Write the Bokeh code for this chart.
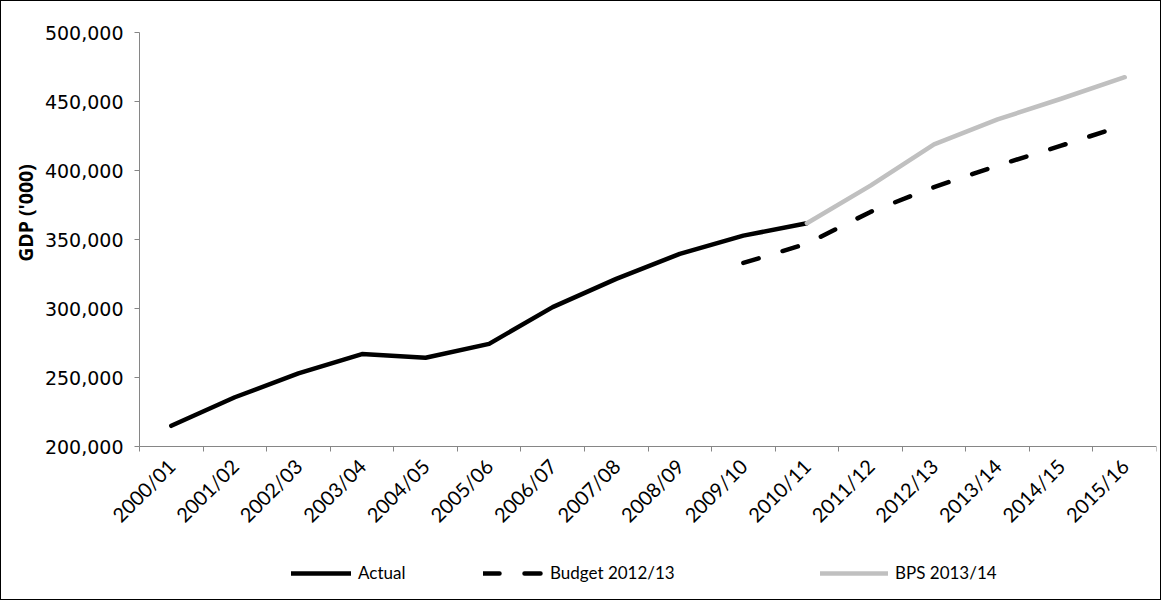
import math
from bokeh.plotting import figure
from bokeh.models import (Range1d, FixedTicker, NumeralTickFormatter, Legend,
                          LegendItem, ColumnDataSource, Label)
from bokeh.embed import file_html
from bokeh.resources import INLINE

categories = ["2000/01", "2001/02", "2002/03", "2003/04", "2004/05", "2005/06",
              "2006/07", "2007/08", "2008/09", "2009/10", "2010/11", "2011/12",
              "2012/13", "2013/14", "2014/15", "2015/16"]
actual_years = categories[:11]
actual = [215000, 235700, 253000, 267000, 264300, 274400, 301000, 321500,
          339600, 352800, 361800]
budget_years = categories[9:]
budget = [333000, 347000, 370000, 388000, 403600, 418000, 433000]
bps_years = categories[10:]
bps = [361800, 389000, 419000, 437000, 452000, 467600]
y_ticks = [200000, 250000, 300000, 350000, 400000, 450000, 500000]
y_min, y_max = 200000, 500000

# layout (pixels, relative to the page)
W, H = 1161, 600          # content size inside the 1px border
RIGHT = 6
PLOT_L, PLOT_R = 139, 1156  # where the category axis starts / ends
PLOT_T, PLOT_B = 32, 446    # where 500,000 / 200,000 lie
FRAME_L, FRAME_T, FRAME_B = 1, 1, 601   # frame edges on the page
n = len(categories)
px_x = (PLOT_R - PLOT_L) / n
px_y = (PLOT_B - PLOT_T) / (y_max - y_min)
x_start = -(PLOT_L - FRAME_L) / px_x
y_start = y_min - (FRAME_B - PLOT_B) / px_y
y_end = y_max + (PLOT_T - FRAME_T) / px_y

pos = {c: i + 0.5 for i, c in enumerate(categories)}

src_a = ColumnDataSource(dict(x=[pos[c] for c in actual_years], y=actual))
src_b = ColumnDataSource(dict(x=[pos[c] for c in budget_years], y=budget))
src_p = ColumnDataSource(dict(x=[pos[c] for c in bps_years], y=bps))

p = figure(width=W, height=H, output_backend="svg", toolbar_location=None,
           x_range=Range1d(x_start, n), y_range=Range1d(y_start, y_end),
           min_border_left=0, min_border_right=RIGHT, min_border_top=0,
           min_border_bottom=0)
p.styles = {"border": "1px solid black"}
p.outline_line_color = None
p.xgrid.visible = False
p.ygrid.visible = False
p.background_fill_color = "white"
p.border_fill_color = "white"

axis_col = "#868686"

# x axis, drawn at the 200,000 level
xa = p.xaxis[0]
xa.fixed_location = y_min
xa.bounds = (0, n)
xa.ticker = FixedTicker(ticks=[pos[c] for c in categories],
                        minor_ticks=list(range(n + 1)))
xa.major_label_overrides = {pos[c]: c for c in categories}
xa.major_label_orientation = math.pi / 4
xa.major_tick_line_color = None
xa.minor_tick_line_color = axis_col
xa.minor_tick_out = 5
xa.minor_tick_in = 0
xa.axis_line_color = axis_col
xa.major_label_text_font = "Lato"
xa.major_label_text_font_size = "20px"
xa.major_label_text_color = "black"
xa.major_label_standoff = 10

# y axis, drawn at the start of the categories
ya = p.yaxis[0]
ya.fixed_location = 0
ya.bounds = (y_min, y_max)
ya.ticker = FixedTicker(ticks=y_ticks)
ya.formatter = NumeralTickFormatter(format="0,0")
ya.axis_line_color = axis_col
ya.major_tick_line_color = axis_col
ya.major_tick_out = 5
ya.major_tick_in = 0
ya.minor_tick_line_color = None
ya.major_label_text_font = "DejaVu Sans"
ya.major_label_text_font_size = "19px"
ya.major_label_text_color = "black"
ya.major_label_standoff = 11

# y axis title
title_px, title_py = 25, 212.5
p.add_layout(Label(x=(title_px - PLOT_L) / px_x,
                   y=y_min + (PLOT_B - title_py) / px_y,
                   text="GDP ('000)", angle=math.pi / 2,
                   text_align="center", text_baseline="middle",
                   text_font="Open Sans", text_font_size="19.5px",
                   text_font_style="bold", text_color="black"))

r_a = p.line("x", "y", source=src_a, line_color="black", line_width=4.5,
             line_cap="round", line_join="round")
r_b = p.line("x", "y", source=src_b, line_color="black", line_width=4.5,
             line_dash="16 25", line_cap="round", line_join="round")
r_p = p.line("x", "y", source=src_p, line_color="#c0c0c0", line_width=4.5,
             line_cap="round", line_join="round")


def make_legend(label, rend, page_x, gw):
    lg = Legend(items=[LegendItem(label=label, renderers=[rend])],
                location=(page_x - FRAME_L, 18), orientation="horizontal",
                glyph_width=gw, glyph_height=20, label_height=20,
                label_standoff=7, padding=0, margin=0,
                border_line_color=None, background_fill_alpha=0,
                label_text_font="Lato", label_text_font_size="17px",
                label_text_color="black")
    p.add_layout(lg, "center")


make_legend("Actual", r_a, 291, 60)
make_legend("Budget 2012/13", r_b, 483, 60)
make_legend("BPS 2013/14", r_p, 820, 68)

open("out.html", "w").write(file_html(p, INLINE))
